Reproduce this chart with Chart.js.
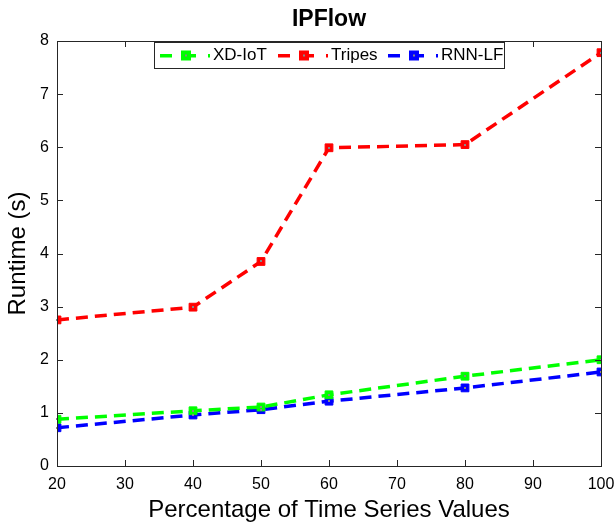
<!DOCTYPE html>
<html>
<head>
<meta charset="utf-8">
<script src="https://cdn.jsdelivr.net/npm/chart.js@4/dist/chart.umd.min.js"></script>
<style>
  html, body { margin: 0; padding: 0; background: #fff; }
  #wrap { width: 616px; height: 526px; }
</style>
</head>
<body>
<div id="wrap"><canvas id="c" width="616" height="526"></canvas></div>
<script>
// data
const xValues = [20, 40, 50, 60, 80, 100];
const xdIot = [0.88, 1.04, 1.11, 1.34, 1.69, 2.0];
const tripes = [2.75, 2.99, 3.85, 5.99, 6.05, 7.78];
const rnnLf = [0.72, 0.96, 1.06, 1.22, 1.47, 1.77];
const seriesNames = ['XD-IoT', 'Tripes', 'RNN-LF'];
const seriesColors = ['#00ff00', '#ff0000', '#0000ff'];
const chartTitle = 'IPFlow';

const FONT = '"Liberation Sans", Arial, Helvetica, sans-serif';

function mkSet(label, values, color) {
  return {
    label,
    data: xValues.map((x, i) => ({ x, y: values[i] })),
    borderColor: color,
    backgroundColor: color,
    borderWidth: 3.5,
    borderDash: [12, 7],
    pointStyle: 'rect',
    pointRadius: 5.5,
    pointBorderWidth: 1,
    pointBorderColor: color,
    pointBackgroundColor: color,
    tension: 0
  };
}

// box, inward ticks, point centres, title and legend
const matlabLook = {
  id: 'matlabLook',
  afterDatasetsDraw(chart) {
    const ctx = chart.ctx;
    const a = chart.chartArea;
    const xs = chart.scales.x, ys = chart.scales.y;
    ctx.save();
    // gray dot in the middle of every marker
    ctx.fillStyle = '#888';
    chart.data.datasets.forEach((d, i) => {
      chart.getDatasetMeta(i).data.forEach(p => {
        ctx.fillRect(Math.round(p.x) - 1, Math.round(p.y) - 1, 2, 2);
      });
    });
    // axes box
    ctx.strokeStyle = '#262626';
    ctx.lineWidth = 1;
    ctx.strokeRect(a.left + 0.5, a.top + 0.5, a.right - a.left, a.bottom - a.top);
    // inward ticks
    const tl = 6;
    ctx.beginPath();
    xs.ticks.forEach(t => {
      const px = Math.round(xs.getPixelForValue(t.value)) + 0.5;
      ctx.moveTo(px, a.bottom); ctx.lineTo(px, a.bottom - tl);
      ctx.moveTo(px, a.top); ctx.lineTo(px, a.top + tl);
    });
    ys.ticks.forEach(t => {
      const py = Math.round(ys.getPixelForValue(t.value)) + 0.5;
      ctx.moveTo(a.left, py); ctx.lineTo(a.left + tl, py);
      ctx.moveTo(a.right, py); ctx.lineTo(a.right - tl, py);
    });
    ctx.stroke();
    // title centred over the axes
    ctx.fillStyle = '#000';
    ctx.font = 'bold 23px ' + FONT;
    ctx.textAlign = 'center';
    ctx.textBaseline = 'middle';
    ctx.fillText(chartTitle, (a.left + a.right) / 2, 20);
    // legend
    const lx = 154, ly = 42, lw = 350, lh = 26;
    ctx.fillStyle = '#fff';
    ctx.fillRect(lx, ly, lw, lh);
    ctx.strokeStyle = '#262626';
    ctx.strokeRect(lx + 0.5, ly + 0.5, lw, lh);
    ctx.font = '17px ' + FONT;
    ctx.textAlign = 'left';
    const starts = [160, 278, 388];
    const cy = ly + lh / 2 + 0.5;
    seriesNames.forEach((name, i) => {
      const sx = starts[i];
      const col = seriesColors[i];
      ctx.fillStyle = col;
      ctx.fillRect(sx, cy - 1.5, 12, 3.5);
      ctx.fillRect(sx + 30, cy - 1.5, 6, 3.5);
      ctx.fillRect(sx + 21, cy - 5, 10, 10);
      ctx.fillRect(sx + 48, cy - 1.5, 2, 3.5);
      ctx.fillStyle = '#888';
      ctx.fillRect(sx + 25, cy - 1, 2, 2);
      ctx.fillStyle = '#000';
      ctx.fillText(name, sx + 53, cy);
    });
    ctx.restore();
  }
};

new Chart(document.getElementById('c'), {
  type: 'line',
  data: {
    datasets: [
      mkSet(seriesNames[0], xdIot, seriesColors[0]),
      mkSet(seriesNames[1], tripes, seriesColors[1]),
      mkSet(seriesNames[2], rnnLf, seriesColors[2])
    ]
  },
  options: {
    responsive: false,
    animation: false,
    layout: { padding: { left: 0, right: 15, top: 41, bottom: 0 } },
    plugins: {
      legend: { display: false },
      tooltip: { enabled: false },
      title: { display: false }
    },
    scales: {
      x: {
        type: 'linear',
        min: 20, max: 100,
        grid: { display: false, drawTicks: false },
        border: { display: false },
        ticks: { stepSize: 10, color: '#000', font: { family: FONT, size: 16 }, padding: 9, maxRotation: 0 },
        title: { display: true, text: 'Percentage of Time Series Values', color: '#000',
                 font: { family: FONT, size: 24 }, padding: { top: 0, bottom: 1 } },
        afterFit(s) { s.height = 60; s.paddingLeft = 0; s.paddingRight = 0; }
      },
      y: {
        min: 0, max: 8,
        grid: { display: false, drawTicks: false },
        border: { display: false },
        ticks: { stepSize: 1, color: '#000', font: { family: FONT, size: 16 }, padding: 8 },
        title: { display: true, text: 'Runtime (s)', color: '#000',
                 font: { family: FONT, size: 24 }, padding: { top: 4, bottom: 0 } },
        afterFit(s) { s.width = 57; s.paddingTop = 0; s.paddingBottom = 0; }
      }
    }
  },
  plugins: [matlabLook]
});
</script>
</body>
</html>
